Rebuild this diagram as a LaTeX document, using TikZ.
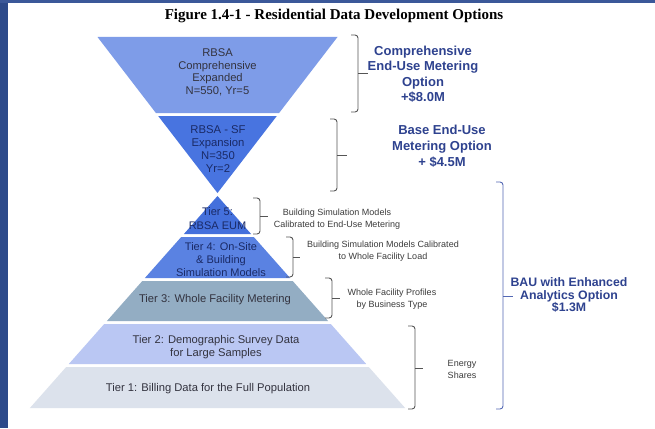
\documentclass[tikz,border=0pt]{standalone}
\usepackage{fontspec}
\setmainfont{Liberation Sans}
\newfontfamily\titlefont{Liberation Serif}
\definecolor{frameblue}{HTML}{2D4A8A}
\definecolor{frametop}{HTML}{3B5899}
\definecolor{bandA}{HTML}{7E9CE8}
\definecolor{bandB}{HTML}{4874E0}
\definecolor{tierfive}{HTML}{4470DC}
\definecolor{tierfour}{HTML}{5A82E2}
\definecolor{tierthree}{HTML}{93ADC3}
\definecolor{tiertwo}{HTML}{BAC7F3}
\definecolor{tierone}{HTML}{DCE2EC}
\definecolor{textdark}{HTML}{33333F}
\definecolor{textnavy}{HTML}{1A2A66}
\definecolor{labelgray}{HTML}{3C3C3C}
\definecolor{optionblue}{HTML}{2E428F}
\definecolor{bracegray}{HTML}{555555}
\definecolor{braceblue}{HTML}{5468B4}
\newcommand\drawrbrace[6]{%
  \draw[#1] (#2-7,#3) -- (#2,#3) -- (#2,#4) -- (#2-7,#4);
  \draw[#1, sharp corners] (#2,#6) -- (#5,#6);
}
\begin{document}
\begin{tikzpicture}[x=1pt,y=-1pt,
  bandtext/.style={align=center,inner sep=0pt,text=textdark,
    font=\fontsize{11.2}{12.5}\selectfont},
  navytext/.style={bandtext,text=textnavy},
  smalllabel/.style={align=center,inner sep=0pt,text=labelgray,
    font=\fontsize{9}{12}\selectfont},
  optionlabel/.style={align=center,inner sep=0pt,text=optionblue,
    font=\bfseries\fontsize{13}{15.5}\selectfont},
  bracestyle/.style={bracegray,line width=0.9pt,rounded corners=3pt},
  bluebrace/.style={braceblue,line width=0.9pt,rounded corners=3pt}]
\useasboundingbox (0,0) rectangle (655,428);
\fill[white] (0,0) rectangle (655,428);
\fill[frameblue] (0,0) rectangle (8,428);
\fill[frametop] (0,0) rectangle (655,3);

% title
\node[inner sep=0pt,font=\titlefont\bfseries\fontsize{15}{17}\selectfont] (title) at (334,16)
  {Figure 1.4-1 - Residential Data Development Options};

% upper funnel
\fill[bandA] (97.5,37) -- (337.5,37) -- (279.1,113) -- (155.9,113) -- cycle;
\fill[bandB] (158.2,116) -- (276.8,116) -- (217.5,193) -- cycle;
% lower pyramid
\fill[tierfive] (217.5,196) -- (251.1,234) -- (183.9,234) -- cycle;
\fill[tierfour] (181.2,237) -- (253.8,237) -- (290.1,278) -- (144.9,278) -- cycle;
\fill[tierthree] (142.3,281) -- (292.7,281) -- (328.1,321) -- (106.9,321) -- cycle;
\fill[tiertwo] (104.2,324) -- (330.8,324) -- (366.2,364) -- (68.8,364) -- cycle;
\fill[tierone] (66.2,367) -- (368.8,367) -- (405.1,408) -- (29.9,408) -- cycle;

% band texts
\node[bandtext] (tA) at (217.5,72.5) {RBSA\\Comprehensive\\Expanded\\N=550, Yr=5};
\node[navytext,font=\fontsize{11.3}{13}\selectfont] (tB) at (218,149) {RBSA - SF\\Expansion\\N=350\\Yr=2};
\node[navytext,font=\fontsize{11}{14}\selectfont] (t5) at (217.5,219) {Tier 5:\\RBSA EUM};
\node[navytext,font=\fontsize{11}{13}\selectfont] (t4) at (221,260) {Tier 4: On-Site\\\& Building\\Simulation Models};
\node[bandtext] (t3) at (215,300) {Tier 3: Whole Facility Metering};
\node[bandtext,font=\fontsize{11.2}{13}\selectfont] (t2) at (216,347.5) {Tier 2: Demographic Survey Data\\for Large Samples};
\node[bandtext] (t1) at (208,389) {Tier 1: Billing Data for the Full Population};

% braces
\drawrbrace{bracestyle}{358}{35}{112}{368}{73.5}
\drawrbrace{bracestyle}{337}{119}{191}{347}{155}
\drawrbrace{bracestyle}{260}{198}{234}{268}{216}
\drawrbrace{bracestyle}{293}{237}{277}{300}{257}
\drawrbrace{bracestyle}{332}{278}{318}{340}{298}
\drawrbrace{bracestyle}{415}{326}{409}{423}{368}
\drawrbrace{bluebrace}{503}{182}{409}{513}{296}

% small labels
\node[smalllabel] (l5) at (337,219) {Building Simulation Models\\Calibrated to End-Use Metering};
\node[smalllabel] (l4) at (383,251.5) {Building Simulation Models Calibrated\\to Whole Facility Load};
\node[smalllabel] (l3) at (392,299) {Whole Facility Profiles\\by Business Type};
\node[smalllabel] (lE) at (462,369) {Energy\\Shares};

% option labels
\node[optionlabel] (oC) at (423,74.5) {Comprehensive\\End-Use Metering\\Option\\+\$8.0M};
\node[optionlabel,font=\bfseries\fontsize{13}{16}\selectfont] (oB) at (442,146) {Base End-Use\\Metering Option\\+ \$4.5M};
\node[optionlabel,font=\bfseries\fontsize{12.3}{12.8}\selectfont] (oA) at (569,295) {BAU with Enhanced\\Analytics Option\\\$1.3M};
\end{tikzpicture}
\end{document}
